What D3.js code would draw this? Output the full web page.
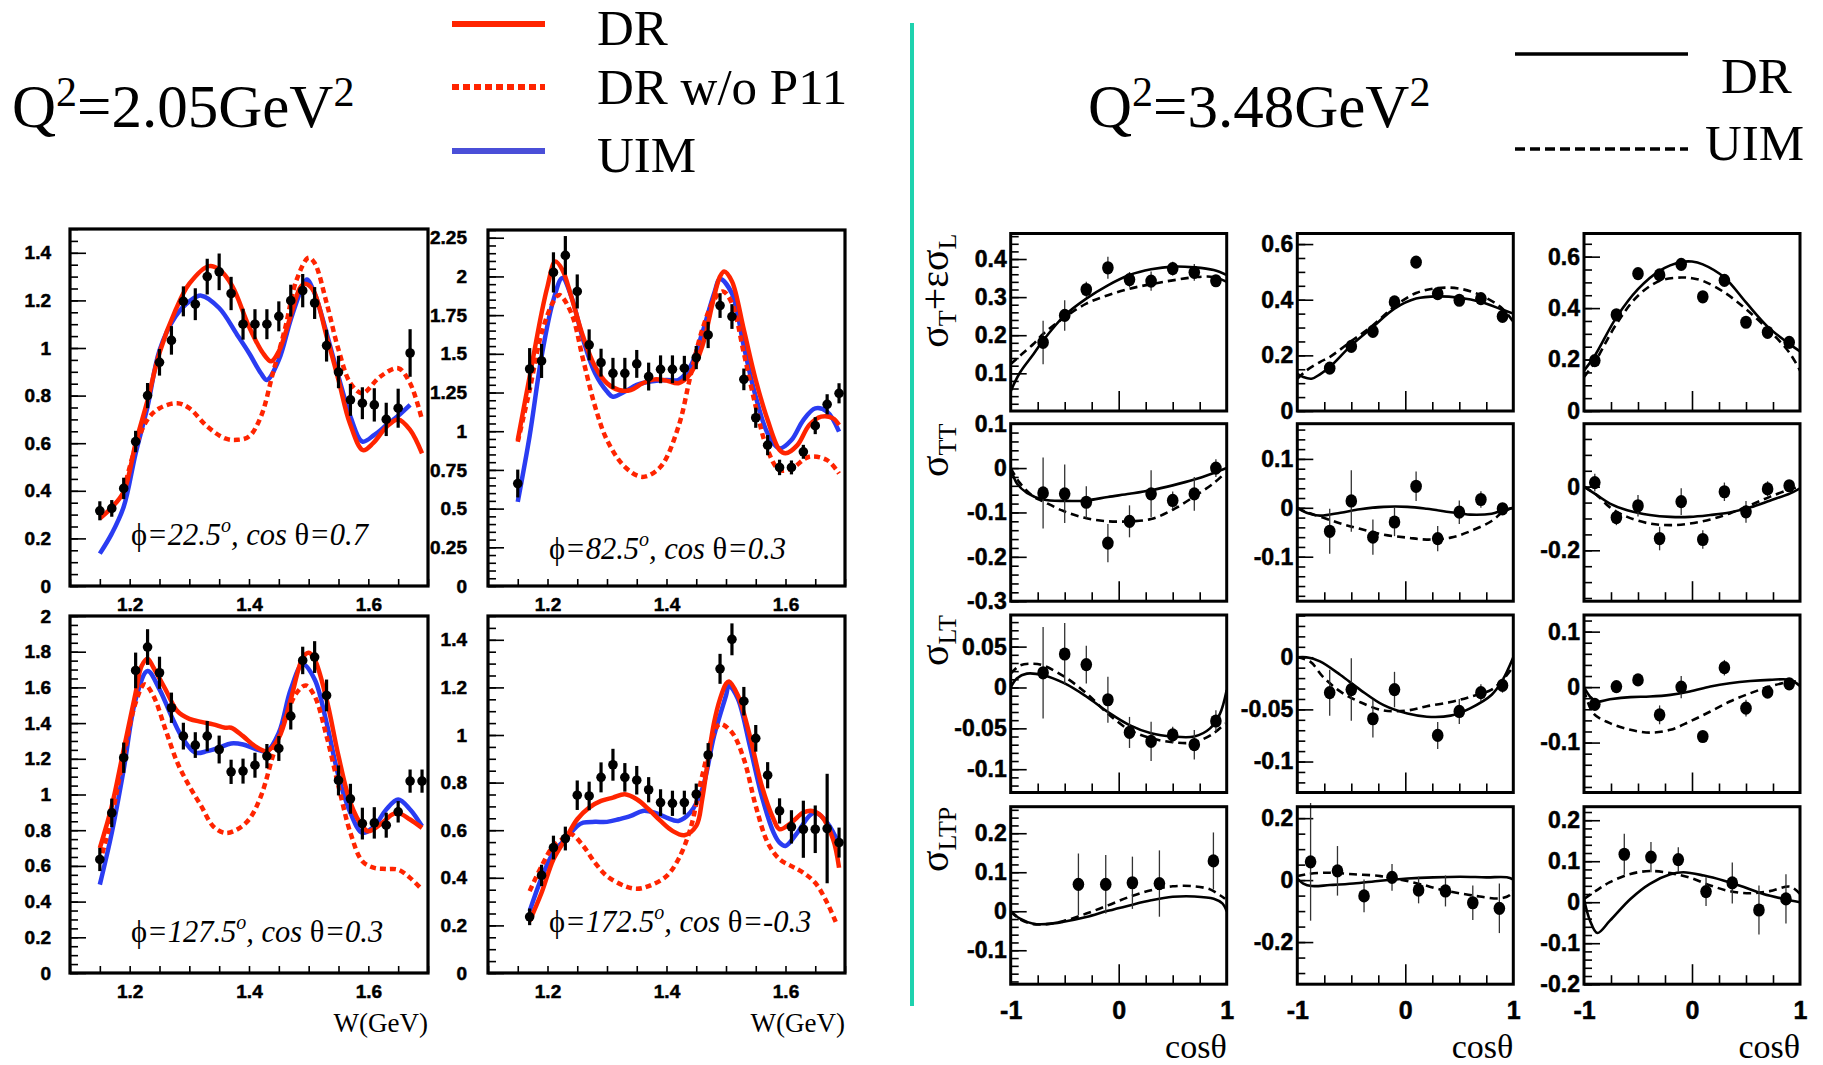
<!DOCTYPE html>
<html>
<head>
<meta charset="utf-8">
<script src="https://cdn.jsdelivr.net/npm/d3@7"></script>
<style>
  body { margin: 0; background: #fff; }
  .serif { font-family: "Liberation Serif", "Times New Roman", serif; }
</style>
</head>
<body>
<svg id="chart"></svg>
<script>
////////////
// DATA - Q2 = 2.05 GeV2, W distributions
////////////

// phi=22.5, cos theta=0.7
const aW = [1.15,1.17,1.19,1.21,1.23,1.25,1.27,1.29,1.31,1.33,1.35,1.37,1.39,1.41,1.43,1.45,1.47,1.49,1.51,1.53,1.55,1.57,1.59,1.61,1.63,1.65,1.67];
const aY = [0.316,0.326,0.41,0.607,0.80,0.94,1.032,1.196,1.184,1.30,1.32,1.229,1.10,1.10,1.10,1.133,1.199,1.241,1.189,1.01,0.899,0.782,0.768,0.761,0.70,0.747,0.979];
const aErr = [0.04,0.035,0.045,0.045,0.053,0.056,0.06,0.063,0.067,0.075,0.077,0.07,0.065,0.063,0.063,0.063,0.067,0.07,0.067,0.067,0.068,0.067,0.067,0.07,0.07,0.082,0.1];
const aDR = [[1.15,0.284],[1.17,0.33],[1.19,0.396],[1.21,0.60],[1.23,0.78],[1.25,0.98],[1.277,1.16],[1.30,1.27],[1.333,1.344],[1.35,1.33],[1.372,1.26],[1.40,1.09],[1.423,0.98],[1.437,0.944],[1.45,0.986],[1.468,1.12],[1.485,1.25],[1.493,1.27],[1.507,1.245],[1.53,1.05],[1.55,0.866],[1.569,0.684],[1.591,0.571],[1.608,0.60],[1.631,0.67],[1.65,0.70],[1.67,0.656],[1.69,0.557]];
const aUIM = [[1.15,0.136],[1.17,0.22],[1.19,0.333],[1.21,0.557],[1.23,0.754],[1.25,0.99],[1.277,1.133],[1.30,1.196],[1.32,1.22],[1.35,1.168],[1.38,1.056],[1.40,0.979],[1.42,0.894],[1.43,0.866],[1.45,0.95],[1.47,1.12],[1.49,1.26],[1.497,1.288],[1.51,1.23],[1.53,1.063],[1.55,0.88],[1.57,0.712],[1.59,0.607],[1.61,0.635],[1.63,0.675],[1.65,0.715],[1.67,0.761]];
const aNoP11 = [[1.19,0.40],[1.21,0.585],[1.23,0.70],[1.25,0.747],[1.28,0.768],[1.30,0.747],[1.33,0.67],[1.36,0.62],[1.38,0.614],[1.40,0.628],[1.42,0.712],[1.44,0.894],[1.46,1.077],[1.48,1.288],[1.50,1.379],[1.51,1.357],[1.53,1.19],[1.55,0.993],[1.57,0.852],[1.59,0.81],[1.62,0.88],[1.65,0.915],[1.67,0.852],[1.69,0.698]];

// phi=82.5, cos theta=0.3
const bW = [1.15,1.17,1.19,1.21,1.23,1.25,1.27,1.29,1.31,1.33,1.35,1.37,1.39,1.41,1.43,1.45,1.47,1.49,1.51,1.53,1.55,1.57,1.59,1.61,1.63,1.65,1.67,1.69];
const bY = [0.662,1.402,1.454,2.026,2.136,1.903,1.558,1.443,1.374,1.374,1.435,1.353,1.40,1.40,1.407,1.476,1.622,1.812,1.741,1.335,1.087,0.91,0.766,0.766,0.867,1.036,1.174,1.245];
const bErr = [0.09,0.135,0.11,0.13,0.125,0.11,0.1,0.09,0.1,0.1,0.09,0.09,0.09,0.09,0.08,0.075,0.085,0.08,0.08,0.07,0.065,0.065,0.05,0.045,0.045,0.055,0.065,0.065];
const bDR = [[1.15,0.943],[1.17,1.353],[1.19,1.763],[1.20,1.935],[1.213,2.097],[1.225,2.043],[1.24,1.87],[1.26,1.61],[1.28,1.417],[1.30,1.31],[1.32,1.266],[1.34,1.266],[1.36,1.31],[1.38,1.335],[1.40,1.327],[1.42,1.31],[1.44,1.37],[1.46,1.547],[1.48,1.87],[1.49,2.0],[1.497,2.032],[1.51,1.968],[1.53,1.655],[1.55,1.331],[1.57,1.072],[1.59,0.878],[1.60,0.857],[1.62,0.91],[1.64,1.04],[1.66,1.094],[1.68,1.083],[1.69,1.04]];
const bUIM = [[1.15,0.544],[1.17,0.97],[1.19,1.482],[1.21,1.849],[1.225,1.99],[1.24,1.87],[1.26,1.59],[1.28,1.374],[1.30,1.256],[1.31,1.223],[1.33,1.256],[1.35,1.30],[1.37,1.32],[1.40,1.331],[1.42,1.331],[1.44,1.417],[1.46,1.633],[1.48,1.89],[1.49,1.983],[1.51,1.89],[1.53,1.547],[1.55,1.223],[1.57,0.986],[1.59,0.889],[1.61,0.943],[1.63,1.072],[1.65,1.148],[1.67,1.126],[1.69,0.997]];
const bNoP11 = [[1.15,0.932],[1.17,1.266],[1.19,1.633],[1.21,1.838],[1.22,1.88],[1.24,1.763],[1.26,1.46],[1.28,1.159],[1.30,0.943],[1.33,0.77],[1.36,0.705],[1.39,0.77],[1.42,1.029],[1.44,1.353],[1.46,1.655],[1.48,1.849],[1.495,1.903],[1.51,1.827],[1.53,1.504],[1.55,1.159],[1.57,0.878],[1.59,0.749],[1.61,0.759],[1.64,0.835],[1.67,0.813],[1.69,0.727]];

// phi=127.5, cos theta=0.3
const cW = [1.15,1.17,1.19,1.21,1.23,1.25,1.27,1.29,1.31,1.33,1.35,1.37,1.39,1.41,1.43,1.45,1.47,1.49,1.51,1.53,1.55,1.57,1.59,1.61,1.63,1.65,1.67,1.69];
const cY = [0.636,0.897,1.206,1.695,1.826,1.682,1.486,1.327,1.277,1.327,1.252,1.127,1.131,1.164,1.215,1.258,1.439,1.751,1.77,1.555,1.079,0.976,0.837,0.841,0.828,0.903,1.075,1.075];
const cErr = [0.065,0.08,0.085,0.1,0.1,0.09,0.085,0.075,0.072,0.085,0.078,0.068,0.07,0.07,0.068,0.07,0.075,0.077,0.089,0.089,0.084,0.084,0.089,0.088,0.07,0.06,0.065,0.065];
const cDR = [[1.15,0.70],[1.17,0.935],[1.19,1.252],[1.21,1.57],[1.22,1.72],[1.23,1.761],[1.24,1.71],[1.26,1.589],[1.28,1.467],[1.30,1.424],[1.32,1.407],[1.34,1.393],[1.36,1.374],[1.37,1.374],[1.39,1.327],[1.41,1.271],[1.43,1.243],[1.45,1.318],[1.47,1.533],[1.49,1.766],[1.50,1.794],[1.51,1.757],[1.53,1.533],[1.55,1.215],[1.57,0.953],[1.59,0.822],[1.60,0.794],[1.62,0.832],[1.64,0.888],[1.65,0.897],[1.67,0.86],[1.69,0.813]];
const cUIM = [[1.15,0.495],[1.17,0.785],[1.19,1.14],[1.21,1.533],[1.23,1.692],[1.25,1.589],[1.27,1.439],[1.29,1.308],[1.31,1.234],[1.33,1.243],[1.35,1.262],[1.37,1.286],[1.39,1.28],[1.41,1.256],[1.43,1.243],[1.45,1.346],[1.47,1.589],[1.49,1.729],[1.51,1.645],[1.53,1.402],[1.55,1.103],[1.57,0.897],[1.59,0.785],[1.61,0.822],[1.63,0.916],[1.65,0.972],[1.67,0.916],[1.69,0.822]];
const cNoP11 = [[1.15,0.617],[1.17,0.878],[1.19,1.215],[1.21,1.514],[1.225,1.617],[1.24,1.551],[1.26,1.364],[1.28,1.178],[1.30,1.047],[1.32,0.935],[1.34,0.822],[1.36,0.785],[1.38,0.804],[1.40,0.86],[1.42,0.991],[1.44,1.215],[1.46,1.421],[1.48,1.57],[1.495,1.611],[1.51,1.551],[1.53,1.327],[1.55,1.047],[1.57,0.785],[1.59,0.626],[1.61,0.589],[1.63,0.583],[1.65,0.579],[1.67,0.533],[1.69,0.467]];

// phi=172.5, cos theta=-0.3
const dW = [1.17,1.19,1.21,1.23,1.25,1.27,1.29,1.31,1.33,1.35,1.37,1.39,1.41,1.43,1.45,1.47,1.49,1.51,1.53,1.55,1.57,1.59,1.61,1.63,1.65,1.67,1.69];
const dY = [0.236,0.41,0.527,0.565,0.747,0.744,0.822,0.875,0.822,0.81,0.77,0.716,0.713,0.716,0.751,0.916,1.278,1.402,1.142,0.986,0.831,0.681,0.614,0.604,0.604,0.607,0.548];
const dErr = [0.035,0.045,0.05,0.05,0.062,0.06,0.063,0.067,0.06,0.06,0.053,0.056,0.053,0.05,0.045,0.05,0.063,0.067,0.06,0.056,0.055,0.053,0.07,0.12,0.1,0.23,0.063];
const dDR = [[1.17,0.218],[1.19,0.337],[1.21,0.478],[1.23,0.562],[1.25,0.646],[1.27,0.695],[1.29,0.723],[1.31,0.737],[1.33,0.751],[1.35,0.73],[1.37,0.688],[1.39,0.639],[1.41,0.597],[1.43,0.579],[1.45,0.618],[1.46,0.73],[1.47,0.899],[1.48,1.053],[1.49,1.152],[1.50,1.215],[1.505,1.225],[1.52,1.166],[1.54,0.997],[1.56,0.787],[1.58,0.646],[1.59,0.604],[1.61,0.632],[1.63,0.674],[1.645,0.681],[1.66,0.66],[1.68,0.562],[1.69,0.442]];
const dUIM = [[1.17,0.26],[1.19,0.40],[1.21,0.506],[1.23,0.562],[1.25,0.618],[1.26,0.632],[1.28,0.635],[1.30,0.635],[1.32,0.646],[1.34,0.66],[1.36,0.681],[1.38,0.674],[1.40,0.653],[1.42,0.639],[1.44,0.674],[1.46,0.772],[1.48,0.997],[1.50,1.166],[1.505,1.208],[1.52,1.152],[1.54,0.955],[1.56,0.744],[1.58,0.59],[1.59,0.548],[1.60,0.534],[1.62,0.59],[1.64,0.66],[1.65,0.674],[1.67,0.632],[1.69,0.541]];
const dNoP11 = [[1.17,0.344],[1.19,0.449],[1.21,0.534],[1.23,0.569],[1.24,0.583],[1.26,0.534],[1.28,0.463],[1.30,0.407],[1.33,0.365],[1.35,0.354],[1.37,0.365],[1.40,0.407],[1.42,0.478],[1.44,0.604],[1.46,0.829],[1.48,1.011],[1.49,1.046],[1.51,1.011],[1.53,0.899],[1.55,0.702],[1.57,0.548],[1.59,0.478],[1.61,0.449],[1.63,0.421],[1.65,0.379],[1.67,0.295],[1.685,0.211]];

////////////
// DATA - Q2 = 3.48 GeV2, structure functions vs cos theta (three W bins)
////////////
const cos9 = [-0.7,-0.5,-0.3,-0.1,0.1,0.3,0.5,0.7,0.9];
const cos10 = [-0.9,-0.7,-0.5,-0.3,-0.1,0.1,0.3,0.5,0.7,0.9];
const cosLT2 = [-0.7,-0.5,-0.3,-0.1,0.3,0.5,0.7,0.9];
const cosLTP1 = [-0.373,-0.12,0.127,0.377,0.877];
const cosLTP2 = [-0.877,-0.628,-0.382,-0.123,0.123,0.372,0.625,0.871];
const cosLTP3 = [-0.627,-0.38,-0.127,0.13,0.373,0.62,0.87];

// column 1
const sum1Y = [0.181,0.252,0.32,0.377,0.346,0.342,0.375,0.365,0.343];
const sum1Err = [0.057,0.04,0.02,0.029,0.02,0.025,0.018,0.022,0.01];
const sum1DR = [[-1,0.053],[-0.914,0.102],[-0.79,0.15],[-0.7,0.186],[-0.5,0.252],[-0.3,0.296],[-0.1,0.331],[0.1,0.358],[0.3,0.373],[0.5,0.38],[0.7,0.378],[0.88,0.371],[1,0.358]];
const sum1UIM = [[-1,0.124],[-0.914,0.146],[-0.79,0.177],[-0.7,0.203],[-0.5,0.247],[-0.3,0.283],[-0.1,0.305],[0.1,0.322],[0.3,0.334],[0.5,0.344],[0.7,0.352],[0.88,0.353],[1,0.34]];
const tt1Y = [-0.056,-0.058,-0.077,-0.169,-0.12,-0.058,-0.073,-0.058,0.0];
const tt1Err = [0.08,0.066,0.036,0.043,0.036,0.053,0.02,0.038,0.02];
const tt1DR = [[-1,0],[-0.944,-0.034],[-0.85,-0.056],[-0.7,-0.071],[-0.5,-0.074],[-0.3,-0.073],[-0.1,-0.065],[0.1,-0.058],[0.3,-0.05],[0.5,-0.039],[0.7,-0.026],[0.88,-0.011],[1,0]];
const tt1UIM = [[-1,0],[-0.914,-0.034],[-0.79,-0.064],[-0.7,-0.075],[-0.5,-0.098],[-0.3,-0.113],[-0.1,-0.12],[0.1,-0.12],[0.3,-0.115],[0.5,-0.094],[0.7,-0.064],[0.88,-0.034],[0.985,-0.011]];
const lt1Y = [0.018,0.041,0.028,-0.015,-0.055,-0.066,-0.058,-0.07,-0.041];
const lt1Err = [0.056,0.038,0.023,0.028,0.019,0.024,0.01,0.018,0.013];
const lt1DR = [[-1,0],[-0.944,0.011],[-0.85,0.017],[-0.7,0.015],[-0.5,0.005],[-0.3,-0.011],[-0.1,-0.03],[0.1,-0.046],[0.3,-0.056],[0.5,-0.06],[0.7,-0.06],[0.846,-0.05],[0.938,-0.032],[1,-0.003]];
const lt1UIM = [[-1,0.017],[-0.914,0.027],[-0.79,0.029],[-0.7,0.027],[-0.5,0.013],[-0.3,-0.007],[-0.1,-0.032],[0.1,-0.052],[0.3,-0.062],[0.5,-0.067],[0.7,-0.067],[0.88,-0.056],[0.985,-0.044]];
const ltp1Y = [0.069,0.069,0.073,0.071,0.129];
const ltp1Err = [0.079,0.075,0.067,0.085,0.073];
const ltp1DR = [[-1,0],[-0.914,-0.019],[-0.79,-0.032],[-0.67,-0.033],[-0.51,-0.027],[-0.3,-0.015],[-0.1,0.001],[0.1,0.015],[0.3,0.028],[0.5,0.037],[0.7,0.038],[0.88,0.032],[0.96,0.02],[1,0]];
const ltp1UIM = [[-1,0],[-0.914,-0.021],[-0.79,-0.033],[-0.67,-0.033],[-0.51,-0.025],[-0.3,-0.006],[-0.1,0.015],[0.1,0.037],[0.3,0.054],[0.5,0.064],[0.7,0.064],[0.846,0.056],[0.938,0.041],[0.985,0.032]];

// column 2
const sum2Y = [0.154,0.232,0.286,0.392,0.535,0.422,0.398,0.404,0.34];
const sum2Err = [0.012,0.012,0.012,0.012,0.012,0.012,0.012,0.012,0.012];
const sum2DR = [[-1,0.134],[-0.945,0.122],[-0.868,0.116],[-0.79,0.132],[-0.7,0.158],[-0.5,0.236],[-0.3,0.302],[-0.1,0.368],[0.1,0.404],[0.3,0.412],[0.5,0.407],[0.7,0.392],[0.9,0.364],[1,0.35]];
const sum2UIM = [[-1,0.116],[-0.914,0.146],[-0.79,0.176],[-0.7,0.194],[-0.5,0.251],[-0.3,0.308],[-0.1,0.376],[0.1,0.424],[0.3,0.442],[0.5,0.44],[0.7,0.416],[0.9,0.368],[1,0.32]];
const tt2Y = [-0.048,0.014,-0.06,-0.029,0.044,-0.063,-0.009,0.017,-0.002];
const tt2Err = [0.046,0.063,0.036,0.029,0.03,0.026,0.024,0.017,0.012];
const tt2DR = [[-1,0],[-0.914,-0.01],[-0.79,-0.016],[-0.6,-0.01],[-0.42,-0.003],[-0.2,0.002],[0.02,0.002],[0.2,-0.002],[0.42,-0.009],[0.6,-0.014],[0.8,-0.012],[0.9,-0.005],[1,0]];
const tt2UIM = [[-1,0],[-0.914,-0.009],[-0.79,-0.018],[-0.6,-0.032],[-0.42,-0.043],[-0.2,-0.055],[0.02,-0.061],[0.2,-0.065],[0.42,-0.061],[0.6,-0.048],[0.8,-0.027],[0.9,-0.009],[1,0]];
const lt2Y = [-0.034,-0.031,-0.059,-0.031,-0.075,-0.052,-0.034,-0.027];
const lt2Err = [0.022,0.03,0.018,0.017,0.013,0.012,0.008,0.007];
const lt2DR = [[-1,0],[-0.914,0],[-0.79,-0.004],[-0.6,-0.017],[-0.42,-0.031],[-0.2,-0.046],[0.02,-0.054],[0.2,-0.057],[0.42,-0.056],[0.6,-0.049],[0.8,-0.036],[0.9,-0.022],[1,0]];
const lt2UIM = [[-1,0],[-0.883,-0.004],[-0.76,-0.019],[-0.6,-0.033],[-0.42,-0.043],[-0.2,-0.051],[0.02,-0.051],[0.2,-0.047],[0.42,-0.043],[0.6,-0.038],[0.8,-0.031],[0.9,-0.022],[1,-0.009]];
const ltp2Y = [0.059,0.03,-0.051,0.009,-0.032,-0.035,-0.073,-0.091];
const ltp2Err = [0.19,0.08,0.053,0.043,0.043,0.05,0.056,0.08];
const ltp2DR = [[-1,0.005],[-0.945,-0.011],[-0.868,-0.019],[-0.7,-0.016],[-0.48,-0.011],[-0.23,-0.002],[0.02,0.005],[0.26,0.009],[0.51,0.011],[0.75,0.009],[0.94,0.009],[1,0.002]];
const ltp2UIM = [[-1,0.013],[-0.914,0.019],[-0.73,0.024],[-0.48,0.019],[-0.23,0.013],[-0.05,0.002],[0.14,-0.013],[0.32,-0.03],[0.51,-0.043],[0.69,-0.053],[0.88,-0.059],[0.97,-0.048],[1,-0.032]];

// column 3
const sum3Y = [0.196,0.374,0.534,0.529,0.57,0.444,0.508,0.345,0.306,0.267];
const sum3Err = [0.012,0.012,0.012,0.012,0.012,0.012,0.012,0.012,0.012,0.012];
const sum3DR = [[-1,0.157],[-0.9,0.215],[-0.7,0.364],[-0.5,0.474],[-0.3,0.545],[-0.1,0.579],[0,0.581],[0.1,0.57],[0.3,0.519],[0.5,0.422],[0.7,0.328],[0.9,0.261],[1,0.232]];
const sum3UIM = [[-1,0.132],[-0.9,0.19],[-0.7,0.338],[-0.5,0.448],[-0.3,0.506],[-0.1,0.519],[0,0.516],[0.1,0.506],[0.3,0.461],[0.5,0.396],[0.7,0.319],[0.9,0.228],[1,0.157]];
const tt3Y = [0.013,-0.097,-0.06,-0.163,-0.047,-0.166,-0.016,-0.079,-0.007,0.003];
const tt3Err = [0.028,0.024,0.034,0.037,0.042,0.029,0.029,0.034,0.024,0.018];
const tt3DR = [[-1,0],[-0.883,-0.026],[-0.76,-0.053],[-0.6,-0.074],[-0.39,-0.089],[-0.2,-0.095],[-0.02,-0.095],[0.17,-0.089],[0.35,-0.081],[0.54,-0.065],[0.72,-0.044],[0.91,-0.021],[1,-0.005]];
const tt3UIM = [[-1,0],[-0.883,-0.026],[-0.76,-0.065],[-0.6,-0.095],[-0.39,-0.116],[-0.2,-0.121],[-0.02,-0.116],[0.17,-0.103],[0.35,-0.084],[0.54,-0.058],[0.72,-0.032],[0.91,-0.008],[1,0]];
const lt3Y = [-0.031,0.001,0.013,-0.05,0.0,-0.089,0.035,-0.038,-0.009,0.006];
const lt3Err = [0.01,0.008,0.008,0.017,0.02,0.01,0.014,0.015,0.008,0.008];
const lt3DR = [[-1,0],[-0.944,-0.017],[-0.883,-0.026],[-0.76,-0.022],[-0.57,-0.018],[-0.39,-0.017],[-0.2,-0.014],[-0.02,-0.008],[0.17,0.001],[0.35,0.007],[0.54,0.011],[0.72,0.013],[0.91,0.013],[1,0.002]];
const lt3UIM = [[-1,-0.005],[-0.914,-0.047],[-0.76,-0.065],[-0.57,-0.077],[-0.39,-0.082],[-0.2,-0.077],[-0.02,-0.062],[0.17,-0.044],[0.35,-0.026],[0.54,-0.011],[0.72,0.001],[0.91,0.01],[0.97,0.01]];
const ltp3Y = [0.117,0.11,0.104,0.026,0.047,-0.019,0.008];
const ltp3Err = [0.05,0.037,0.03,0.035,0.05,0.06,0.06];
const ltp3DR = [[-1,0.008],[-0.944,-0.045],[-0.877,-0.075],[-0.76,-0.045],[-0.57,0.008],[-0.39,0.045],[-0.2,0.068],[-0.08,0.073],[0.11,0.065],[0.29,0.053],[0.48,0.037],[0.66,0.02],[0.85,0.008],[1,0]];
const ltp3UIM = [[-1,0.008],[-0.883,0.029],[-0.76,0.049],[-0.57,0.069],[-0.39,0.076],[-0.2,0.071],[-0.02,0.06],[0.17,0.041],[0.35,0.027],[0.54,0.022],[0.72,0.027],[0.91,0.038],[1,0.02]];

////////////
// SETTINGS
////////////
const width = 1823, height = 1065;
const RED = "#ff2400", BLUE = "#2a3cf2";
const SANS = "'Liberation Sans', Arial, Helvetica, sans-serif";

const svg = d3.select("#chart").attr("width", width).attr("height", height);
let clipCount = 0;

// tick positions (multiples of step inside a domain)
function ticksIn(domain, step) {
    const lo = Math.ceil(domain[0] / step - 1e-6), hi = Math.floor(domain[1] / step + 1e-6);
    return d3.range(lo, hi + 1).map(i => +(i * step).toFixed(4));
}
const fmt = v => String(+v.toFixed(3));

function styleAxis(sel, size) {
    sel.select(".domain").remove();
    sel.selectAll(".tick line").attr("stroke", "#000").attr("stroke-width", 1.6);
    sel.selectAll(".tick text").attr("fill", "#000")
        .attr("stroke", "#000").attr("stroke-width", 0.5)
        .style("font-family", SANS).style("font-weight", "bold").style("font-size", size + "px");
}

function addClip(g, p) {
    const id = "clip" + (clipCount++);
    g.append("clipPath").attr("id", id).append("rect")
        .attr("x", p.x).attr("y", p.y).attr("width", p.w).attr("height", p.h);
    return "url(#" + id + ")";
}

////////////
// LEFT: Q2 = 2.05
////////////
const leftPanels = [
    { x: 70, y: 229, w: 358, h: 357, yd: [0, 1.5], major: 0.2, W: aW, Y: aY, E: aErr, dr: aDR, uim: aUIM, nop: aNoP11, phi: "22.5", cos: "0.7", ly: 545, pad: 19 },
    { x: 488, y: 230, w: 357, h: 356, yd: [0, 2.3], major: 0.25, W: bW, Y: bY, E: bErr, dr: bDR, uim: bUIM, nop: bNoP11, phi: "82.5", cos: "0.3", ly: 559, pad: 21 },
    { x: 70, y: 616, w: 358, h: 357, yd: [0, 2], major: 0.2, W: cW, Y: cY, E: cErr, dr: cDR, uim: cUIM, nop: cNoP11, phi: "127.5", cos: "0.3", ly: 942, pad: 19, wlab: true },
    { x: 488, y: 616, w: 357, h: 357, yd: [0, 1.5], major: 0.2, W: dW, Y: dY, E: dErr, dr: dDR, uim: dUIM, nop: dNoP11, phi: "172.5", cos: "-0.3", ly: 932, pad: 21, wlab: true }
];

leftPanels.forEach(p => {
    const x = d3.scaleLinear().domain([1.1, 1.7]).range([p.x, p.x + p.w]);
    const y = d3.scaleLinear().domain(p.yd).range([p.y + p.h, p.y]);
    const g = svg.append("g");
    const clip = addClip(g, p);

    g.append("g").attr("transform", `translate(${p.x},0)`)
        .call(d3.axisLeft(y).tickValues(ticksIn(p.yd, 0.05)).tickSizeInner(-8).tickSizeOuter(0).tickFormat(""))
        .call(s => styleAxis(s, 19));
    g.append("g").attr("transform", `translate(${p.x},0)`)
        .call(d3.axisLeft(y).tickValues(ticksIn(p.yd, p.major)).tickSizeInner(-16).tickSizeOuter(0).tickPadding(p.pad).tickFormat(fmt))
        .call(s => styleAxis(s, 19));
    g.append("g").attr("transform", `translate(0,${p.y + p.h})`)
        .call(d3.axisBottom(x).tickValues(ticksIn([1.1, 1.7], 0.05)).tickSizeInner(-7).tickSizeOuter(0).tickFormat(""))
        .call(s => styleAxis(s, 19));
    g.append("g").attr("transform", `translate(0,${p.y + p.h})`)
        .call(d3.axisBottom(x).tickValues([1.2, 1.4, 1.6]).tickSize(0).tickPadding(12).tickFormat(fmt))
        .call(s => styleAxis(s, 19));

    const line = d3.line().x(d => x(d[0])).y(d => y(d[1])).curve(d3.curveCatmullRom.alpha(0.5));
    const curves = g.append("g").attr("clip-path", clip).attr("fill", "none").attr("stroke-linejoin", "round");
    curves.append("path").datum(p.uim).attr("d", line).attr("stroke", BLUE).attr("stroke-width", 4.5);
    curves.append("path").datum(p.dr).attr("d", line).attr("stroke", RED).attr("stroke-width", 4.5);
    curves.append("path").datum(p.nop).attr("d", line).attr("stroke", RED).attr("stroke-width", 4.5).attr("stroke-dasharray", "6,4");

    const pts = d3.zip(p.W, p.Y, p.E);
    g.selectAll(".eb").data(pts).join("line")
        .attr("x1", d => x(d[0])).attr("x2", d => x(d[0]))
        .attr("y1", d => y(d[1] - d[2])).attr("y2", d => y(d[1] + d[2]))
        .attr("stroke", "#000").attr("stroke-width", 3.2);
    g.selectAll(".pt").data(pts).join("circle")
        .attr("cx", d => x(d[0])).attr("cy", d => y(d[1])).attr("r", 4.8).attr("fill", "#000");

    g.append("rect").attr("x", p.x).attr("y", p.y).attr("width", p.w).attr("height", p.h)
        .attr("fill", "none").attr("stroke", "#000").attr("stroke-width", 3.2);

    // kinematics label
    const t = g.append("text").attr("class", "serif").attr("x", p.x + 61).attr("y", p.ly).style("font-size", "30.5px");
    t.append("tspan").text("ϕ");
    t.append("tspan").style("font-style", "italic").text("=" + p.phi);
    t.append("tspan").style("font-style", "italic").style("font-size", "20px").attr("dy", -13).text("o");
    t.append("tspan").style("font-style", "italic").attr("dy", 13).text(", cos ");
    t.append("tspan").text("θ");
    t.append("tspan").style("font-style", "italic").text("=" + p.cos);

    if (p.wlab) {
        g.append("text").attr("class", "serif").attr("x", p.x + p.w).attr("y", 1032)
            .attr("text-anchor", "end").style("font-size", "27px").text("W(GeV)");
    }
});

////////////
// RIGHT: Q2 = 3.48
////////////
const colX = [1010.7, 1297.3, 1584];
const rowY = [233.5, 423.7, 615, 806.7];
const rightPanels = [
    { c: 0, r: 0, yd: [0.001, 0.467], major: 0.1, minor: 0.02, X: cos9, Y: sum1Y, E: sum1Err, dr: sum1DR, uim: sum1UIM },
    { c: 0, r: 1, yd: [-0.3, 0.1], major: 0.1, minor: 0.02, X: cos9, Y: tt1Y, E: tt1Err, dr: tt1DR, uim: tt1UIM },
    { c: 0, r: 2, yd: [-0.1285, 0.0887], major: 0.05, minor: 0.01, X: cos9, Y: lt1Y, E: lt1Err, dr: lt1DR, uim: lt1UIM },
    { c: 0, r: 3, yd: [-0.187, 0.268], major: 0.1, minor: 0.02, X: cosLTP1, Y: ltp1Y, E: ltp1Err, dr: ltp1DR, uim: ltp1UIM },
    { c: 1, r: 0, yd: [0, 0.638], major: 0.2, minor: 0.05, X: cos9, Y: sum2Y, E: sum2Err, dr: sum2DR, uim: sum2UIM },
    { c: 1, r: 1, yd: [-0.191, 0.172], major: 0.1, minor: 0.02, X: cos9, Y: tt2Y, E: tt2Err, dr: tt2DR, uim: tt2UIM },
    { c: 1, r: 2, yd: [-0.1297, 0.0405], major: 0.05, minor: 0.01, X: cosLT2, Y: lt2Y, E: lt2Err, dr: lt2DR, uim: lt2UIM },
    { c: 1, r: 3, yd: [-0.336, 0.237], major: 0.2, minor: 0.05, X: cosLTP2, Y: ltp2Y, E: ltp2Err, dr: ltp2DR, uim: ltp2UIM },
    { c: 2, r: 0, yd: [0, 0.69], major: 0.2, minor: 0.05, X: cos10, Y: sum3Y, E: sum3Err, dr: sum3DR, uim: sum3UIM },
    { c: 2, r: 1, yd: [-0.36, 0.198], major: 0.2, minor: 0.05, X: cos10, Y: tt3Y, E: tt3Err, dr: tt3DR, uim: tt3UIM },
    { c: 2, r: 2, yd: [-0.19, 0.13], major: 0.1, minor: 0.02, X: cos10, Y: lt3Y, E: lt3Err, dr: lt3DR, uim: lt3UIM },
    { c: 2, r: 3, yd: [-0.2, 0.233], major: 0.1, minor: 0.02, X: cosLTP3, Y: ltp3Y, E: ltp3Err, dr: ltp3DR, uim: ltp3UIM }
];

rightPanels.forEach(q => {
    const p = { x: colX[q.c], y: rowY[q.r], w: 216, h: 177.5 };
    const x = d3.scaleLinear().domain([-1, 1]).range([p.x, p.x + p.w]);
    const y = d3.scaleLinear().domain(q.yd).range([p.y + p.h, p.y]);
    const g = svg.append("g");
    const clip = addClip(g, p);

    g.append("g").attr("transform", `translate(${p.x},0)`)
        .call(d3.axisLeft(y).tickValues(ticksIn(q.yd, q.minor)).tickSizeInner(-8).tickSizeOuter(0).tickFormat(""))
        .call(s => styleAxis(s, 23));
    g.append("g").attr("transform", `translate(${p.x},0)`)
        .call(d3.axisLeft(y).tickValues(ticksIn(q.yd, q.major)).tickSizeInner(-16).tickSizeOuter(0).tickPadding(4).tickFormat(fmt))
        .call(s => styleAxis(s, 23));
    g.append("g").attr("transform", `translate(0,${p.y + p.h})`)
        .call(d3.axisBottom(x).tickValues([-0.75, -0.5, -0.25, 0.25, 0.5, 0.75]).tickSizeInner(-9).tickSizeOuter(0).tickFormat(""))
        .call(s => styleAxis(s, 23));
    g.append("g").attr("transform", `translate(0,${p.y + p.h})`)
        .call(d3.axisBottom(x).tickValues([0]).tickSizeInner(-20).tickSizeOuter(0).tickFormat(""))
        .call(s => styleAxis(s, 23));
    if (q.r === 3) {
        g.append("g").attr("transform", `translate(0,${p.y + p.h})`)
            .call(d3.axisBottom(x).tickValues([-1, 0, 1]).tickSize(0).tickPadding(17).tickFormat(fmt))
            .call(s => styleAxis(s, 25));
        g.append("text").attr("class", "serif").attr("x", p.x + p.w).attr("y", 1058)
            .attr("text-anchor", "end").style("font-size", "34px").text("cosθ");
    }

    const line = d3.line().x(d => x(d[0])).y(d => y(d[1])).curve(d3.curveCatmullRom.alpha(0.5));
    const curves = g.append("g").attr("clip-path", clip).attr("fill", "none").attr("stroke", "#000");
    curves.append("path").datum(q.dr).attr("d", line).attr("stroke-width", 2.6);
    curves.append("path").datum(q.uim).attr("d", line).attr("stroke-width", 2.6).attr("stroke-dasharray", "8,5");

    const pts = d3.zip(q.X, q.Y, q.E);
    g.selectAll(".eb").data(pts).join("line")
        .attr("x1", d => x(d[0])).attr("x2", d => x(d[0]))
        .attr("y1", d => y(d[1] - d[2])).attr("y2", d => y(d[1] + d[2]))
        .attr("stroke", "#333").attr("stroke-width", 1.3);
    g.selectAll(".pt").data(pts).join("ellipse")
        .attr("cx", d => x(d[0])).attr("cy", d => y(d[1])).attr("rx", 5.8).attr("ry", 6.6).attr("fill", "#000");

    g.append("rect").attr("x", p.x).attr("y", p.y).attr("width", p.w).attr("height", p.h)
        .attr("fill", "none").attr("stroke", "#000").attr("stroke-width", 3);
});

// y titles of the right grid (rotated, anchored at the top of each row)
const sigmaTitles = [["σ", "T", "+εσ", "L"], ["σ", "TT"], ["σ", "LT"], ["σ", "LTP"]];
sigmaTitles.forEach((parts, r) => {
    const t = svg.append("text").attr("class", "serif")
        .attr("transform", `translate(948,${rowY[r]}) rotate(-90)`)
        .attr("text-anchor", "end").style("font-size", "40px");
    parts.forEach((s, i) => {
        const sub = i % 2 === 1;
        t.append("tspan").style("font-size", sub ? "26px" : "40px")
            .attr("dy", sub ? 8 : (i > 0 ? -8 : 0)).text(s);
    });
});

////////////
// TITLES & LEGENDS
////////////
function qTitle(x0, val) {
    const t = svg.append("text").attr("class", "serif").attr("x", x0).attr("y", 127).style("font-size", "61px");
    t.append("tspan").text("Q");
    t.append("tspan").style("font-size", "42px").attr("dy", -21).text("2");
    t.append("tspan").attr("dy", 21).text("=" + val + "GeV");
    t.append("tspan").style("font-size", "42px").attr("dy", -21).text("2");
}
qTitle(12, "2.05");
qTitle(1088, "3.48");

const legL = [
    { y: 24, ty: 45, color: RED, dash: null, label: "DR" },
    { y: 87, ty: 104, color: RED, dash: "7,4", label: "DR w/o P11" },
    { y: 151, ty: 172, color: "#4a4fd8", dash: null, label: "UIM" }
];
legL.forEach(d => {
    svg.append("line").attr("x1", 452).attr("x2", 545).attr("y1", d.y).attr("y2", d.y)
        .attr("stroke", d.color).attr("stroke-width", 6).attr("stroke-dasharray", d.dash);
    svg.append("text").attr("class", "serif").attr("x", 597).attr("y", d.ty).style("font-size", "51px").text(d.label);
});

const legR = [
    { y: 54, tx: 1721, ty: 93, dash: null, label: "DR" },
    { y: 149, tx: 1705, ty: 160, dash: "10,5", label: "UIM" }
];
legR.forEach(d => {
    svg.append("line").attr("x1", 1515).attr("x2", 1688).attr("y1", d.y).attr("y2", d.y)
        .attr("stroke", "#000").attr("stroke-width", 3.5).attr("stroke-dasharray", d.dash);
    svg.append("text").attr("class", "serif").attr("x", d.tx).attr("y", d.ty).style("font-size", "51px").text(d.label);
});

// separator between the two Q2 halves
svg.append("line").attr("x1", 912).attr("x2", 912).attr("y1", 23).attr("y2", 1006)
    .attr("stroke", "#1ed2ae").attr("stroke-width", 4);
</script>
</body>
</html>
